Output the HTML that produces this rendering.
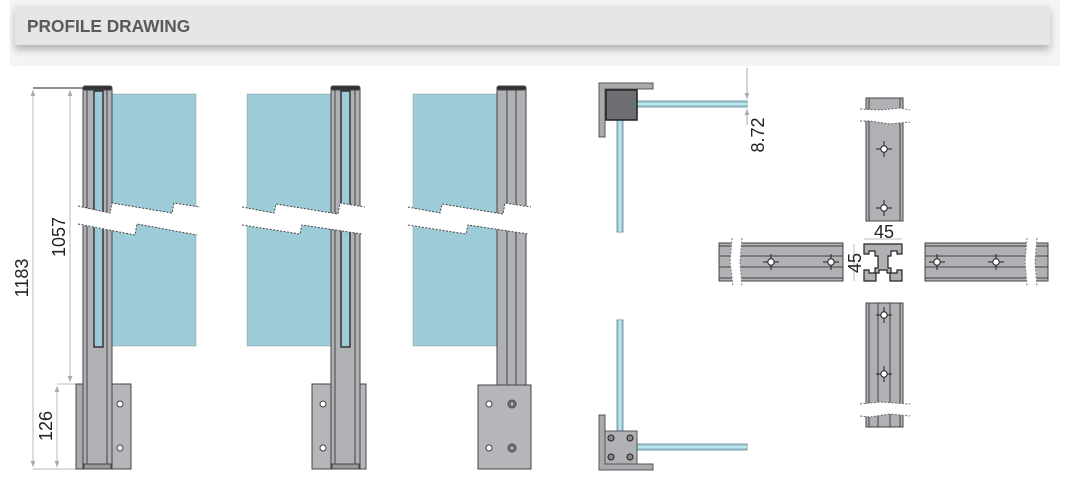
<!DOCTYPE html>
<html><head><meta charset="utf-8"><style>
html,body{margin:0;padding:0;background:#fff;}
body{width:1071px;height:477px;overflow:hidden;position:relative;font-family:"Liberation Sans",sans-serif;}
.hdr{position:absolute;left:15px;top:5px;width:1035px;height:40px;background:#e6e6e8;box-shadow:0 5px 7px rgba(0,0,0,0.25);}
.hdr span{position:absolute;left:12px;top:11px;font-size:17.3px;font-weight:bold;color:#5a5a5d;}
.bg{position:absolute;left:10px;top:0;width:1050px;height:66px;background:#f4f4f5;}
svg{position:absolute;left:0;top:0;}
</style></head><body>
<div class="bg"></div>
<div class="hdr"><span>PROFILE DRAWING</span></div>
<svg width="1071" height="477" viewBox="0 0 1071 477" font-family="Liberation Sans, sans-serif">
<defs>
<marker id="ar" viewBox="0 0 10 10" refX="10" refY="5" markerWidth="6" markerHeight="8" orient="auto-start-reverse"><path d="M0,1 L10,5 L0,9 Z" fill="#aaa"/></marker>
</defs>
<g stroke="#bbb" stroke-width="1" fill="none">
<line x1="33" y1="88" x2="83" y2="88" stroke="#222"/>
<line x1="57" y1="384" x2="83" y2="384"/>
<line x1="33" y1="469" x2="83" y2="469"/>
<line x1="33" y1="90" x2="33" y2="467" marker-start="url(#ar)" marker-end="url(#ar)"/>
<line x1="70" y1="90" x2="70" y2="382" marker-start="url(#ar)" marker-end="url(#ar)"/>
<line x1="57" y1="386" x2="57" y2="467" marker-start="url(#ar)" marker-end="url(#ar)"/>
</g>
<g font-size="18" fill="#222">
<text transform="translate(33,278) rotate(-90)" text-anchor="middle" dy="-5">1183</text>
<text transform="translate(70,237) rotate(-90)" text-anchor="middle" dy="-5">1057</text>
<text transform="translate(57,426) rotate(-90)" text-anchor="middle" dy="-5">126</text>
</g>

<g fill="#9ecbd8" stroke="#8a9aa0" stroke-width="0.5">
<rect x="112" y="94" width="84" height="252"/>
<rect x="247" y="94" width="84" height="252"/>
<rect x="413" y="94" width="84" height="252"/>
</g>

<g stroke="#444" stroke-width="1">
<rect x="76" y="384" width="7" height="85" fill="#a9aaae"/>
<rect x="112" y="384" width="19" height="85" fill="#b5b6ba"/>
<rect x="83" y="89" width="29" height="380" fill="#b0b1b5"/>
<line x1="87" y1="89" x2="87" y2="469"/><line x1="107" y1="89" x2="107" y2="469"/>
<rect x="94" y="91" width="9" height="256" fill="#9ecbd8" stroke="#222" stroke-width="1.3"/>
<rect x="83" y="86" width="29" height="4" rx="2" fill="#333"/>
<rect x="84" y="464" width="27" height="5" fill="#999"/>
<circle cx="120" cy="404" r="3" fill="#fff"/><circle cx="120" cy="448" r="3" fill="#fff"/>
</g>
<g stroke="#444" stroke-width="1">
<rect x="312" y="384" width="54" height="85" fill="#b5b6ba"/>
<rect x="331" y="89" width="29" height="380" fill="#b0b1b5"/>
<line x1="335" y1="89" x2="335" y2="469"/><line x1="355" y1="89" x2="355" y2="469"/>
<rect x="341" y="91" width="9" height="256" fill="#9ecbd8" stroke="#222" stroke-width="1.3"/>
<rect x="331" y="86" width="29" height="4" rx="2" fill="#333"/>
<rect x="332" y="464" width="27" height="5" fill="#999"/>
<circle cx="323" cy="404" r="3" fill="#fff"/><circle cx="323" cy="448" r="3" fill="#fff"/>
</g>
<g stroke="#444" stroke-width="1">
<rect x="497" y="89" width="29" height="296" fill="#b0b1b5"/>
<line x1="507" y1="89" x2="507" y2="385"/><line x1="516" y1="89" x2="516" y2="385"/>
<rect x="497" y="86" width="29" height="4" rx="2" fill="#333"/>
<rect x="478" y="385" width="53" height="84" fill="#b5b6ba"/>
<circle cx="489" cy="404" r="3" fill="#fff"/><circle cx="489" cy="448" r="3" fill="#fff"/>
<circle cx="512" cy="404" r="4" fill="#888"/><circle cx="512" cy="404" r="2" fill="#ccc"/>
<circle cx="512" cy="448" r="4" fill="#888"/><circle cx="512" cy="448" r="2" fill="#ccc"/>
</g>

<g fill="#fff" stroke="#444" stroke-width="1" stroke-dasharray="2,1.5">
<path d="M76,206 L110,213 L112,203 L172,213 L174,203 L200,207 L200,236 L197,235 L137,224 L135,235 L76,224 Z" stroke="none"/>
<polyline fill="none" points="78,206 110,213 112,203 172,213 174,203 200,207"/>
<polyline fill="none" points="78,224 135,235 137,224 197,235"/>
<path d="M240,207 L274,213 L276,204 L338,214 L340,203 L366,207 L366,235 L362,234 L302,225 L300,234 L240,225 Z" stroke="none"/>
<polyline fill="none" points="242,207 274,213 276,204 338,214 340,203 365,207"/>
<polyline fill="none" points="242,225 300,234 302,225 362,234"/>
<path d="M406,207 L440,213 L442,204 L503,214 L505,203 L532,207 L532,235 L528,234 L468,225 L466,234 L406,225 Z" stroke="none"/>
<polyline fill="none" points="408,207 440,213 442,204 503,214 505,203 531,207"/>
<polyline fill="none" points="408,225 466,234 468,225 528,234"/>
</g>

<g stroke="#555" stroke-width="1">
<path d="M599,83 H653 V89 H605 V137 H599 Z" fill="#a9aaae"/>
<rect x="637" y="101" width="110" height="6" fill="#9ecbd8" stroke="#7a9aa4"/>
<line x1="637" y1="104" x2="747" y2="104" stroke="#dff"/>
<rect x="617" y="120" width="6" height="112" fill="#9ecbd8" stroke="#7a9aa4"/>
<line x1="620" y1="120" x2="620" y2="232" stroke="#dff"/>
<rect x="606" y="90" width="31" height="30" fill="#6e6f73" stroke="#222" stroke-width="1.5"/>
</g>
<line x1="747" y1="68" x2="747" y2="99" stroke="#aaa" marker-end="url(#ar)"/>
<line x1="747" y1="125" x2="747" y2="109" stroke="#aaa" marker-end="url(#ar)"/>
<text transform="translate(764,135) rotate(-90)" text-anchor="middle" font-size="18" fill="#222">8.72</text>

<g stroke="#555" stroke-width="1">
<rect x="617" y="320" width="6" height="112" fill="#9ecbd8" stroke="#7a9aa4"/>
<line x1="620" y1="320" x2="620" y2="432" stroke="#dff"/>
<path d="M599,415 H605 V464 H653 V470 H599 Z" fill="#a9aaae"/>
<rect x="637" y="444" width="110" height="6" fill="#9ecbd8" stroke="#7a9aa4"/>
<line x1="637" y1="447" x2="747" y2="447" stroke="#dff"/>
<rect x="605" y="431" width="32" height="33" fill="#b0b1b5"/>
<g fill="#888" stroke="#222"><circle cx="611" cy="438" r="3"/><circle cx="630" cy="438" r="3"/><circle cx="611" cy="457" r="3"/><circle cx="630" cy="457" r="3"/></g>
</g>

<g stroke="#444" stroke-width="1">
<rect x="866" y="98" width="37" height="123" fill="#b0b1b5"/>
<line x1="869" y1="98" x2="869" y2="221"/><line x1="900" y1="98" x2="900" y2="221"/>
<path d="M860,109 L880,110 L900,108 L910,110 L910,122 L890,124 L870,121 L860,121 Z" fill="#fff" stroke="none"/>
<polyline points="860,109 880,110 900,108 910,110" fill="none" stroke="#666" stroke-dasharray="2,1.5"/>
<polyline points="860,121 870,121 890,124 910,122" fill="none" stroke="#666" stroke-dasharray="2,1.5"/>
<g stroke="#222"><line x1="876" y1="149" x2="892" y2="149"/><line x1="884" y1="141" x2="884" y2="157"/><line x1="876" y1="208" x2="892" y2="208"/><line x1="884" y1="200" x2="884" y2="216"/></g>
<g fill="#fff" stroke="#222"><circle cx="884" cy="149" r="3.2"/><circle cx="884" cy="208" r="3.2"/></g>
</g>
<g stroke="#444" stroke-width="1">
<rect x="866" y="303" width="37" height="124" fill="#b0b1b5"/>
<line x1="869" y1="303" x2="869" y2="427"/><line x1="900" y1="303" x2="900" y2="427"/>
<line x1="878" y1="303" x2="878" y2="427"/><line x1="890" y1="303" x2="890" y2="427"/>
<path d="M860,404 L880,402 L910,404 L910,416 L890,414 L870,417 L860,416 Z" fill="#fff" stroke="none"/>
<polyline points="860,404 880,402 910,404" fill="none" stroke="#666" stroke-dasharray="2,1.5"/>
<polyline points="860,416 870,417 890,414 910,416" fill="none" stroke="#666" stroke-dasharray="2,1.5"/>
<g stroke="#222"><line x1="876" y1="315" x2="892" y2="315"/><line x1="884" y1="307" x2="884" y2="323"/><line x1="876" y1="374" x2="892" y2="374"/><line x1="884" y1="366" x2="884" y2="382"/></g>
<g fill="#fff" stroke="#222"><circle cx="884" cy="315" r="3.2"/><circle cx="884" cy="374" r="3.2"/></g>
</g>
<g stroke="#444" stroke-width="1">
<rect x="719" y="243" width="124" height="38" fill="#b0b1b5"/>
<line x1="719" y1="246" x2="843" y2="246"/><line x1="719" y1="278" x2="843" y2="278"/>
<line x1="719" y1="256" x2="843" y2="256"/><line x1="719" y1="267" x2="843" y2="267"/>
<path d="M732,238 L730,262 L733,286 L742,286 L740,262 L742,238 Z" fill="#fff" stroke="none"/>
<polyline points="732,238 730,262 733,286" fill="none" stroke="#777" stroke-dasharray="2,1.5"/>
<polyline points="742,238 740,262 742,286" fill="none" stroke="#777" stroke-dasharray="2,1.5"/>
<g stroke="#222"><line x1="763" y1="262" x2="779" y2="262"/><line x1="771" y1="254" x2="771" y2="270"/><line x1="823" y1="262" x2="839" y2="262"/><line x1="831" y1="254" x2="831" y2="270"/></g>
<g fill="#fff" stroke="#222"><circle cx="771" cy="262" r="3.2"/><circle cx="831" cy="262" r="3.2"/></g>
</g>
<g stroke="#444" stroke-width="1">
<rect x="925" y="243" width="123" height="38" fill="#b0b1b5"/>
<line x1="925" y1="246" x2="1048" y2="246"/><line x1="925" y1="278" x2="1048" y2="278"/>
<line x1="925" y1="256" x2="1048" y2="256"/><line x1="925" y1="267" x2="1048" y2="267"/>
<path d="M1027,238 L1025,262 L1027,286 L1037,286 L1035,262 L1037,238 Z" fill="#fff" stroke="none"/>
<polyline points="1027,238 1025,262 1027,286" fill="none" stroke="#777" stroke-dasharray="2,1.5"/>
<polyline points="1037,238 1035,262 1037,286" fill="none" stroke="#777" stroke-dasharray="2,1.5"/>
<g stroke="#222"><line x1="929" y1="262" x2="945" y2="262"/><line x1="937" y1="254" x2="937" y2="270"/><line x1="988" y1="262" x2="1004" y2="262"/><line x1="996" y1="254" x2="996" y2="270"/></g>
<g fill="#fff" stroke="#222"><circle cx="937" cy="262" r="3.2"/><circle cx="996" cy="262" r="3.2"/></g>
</g>
<g stroke="#222" stroke-width="1.2" fill="#b0b1b5">
<path d="M864,244 H902 V254 H897 V251 H891 V256 H888 V268 H891 V273 H897 V270 H902 V281 H890 V273 H887 V270 H879 V273 H876 V281 H864 V270 H869 V273 H875 V268 H878 V256 H875 V251 H869 V254 H864 Z"/>
</g>
<g stroke="#bbb"><line x1="864" y1="239" x2="902" y2="239"/><line x1="854" y1="244" x2="854" y2="281"/></g>
<text x="884" y="238" text-anchor="middle" font-size="18" fill="#222">45</text>
<text transform="translate(861,263) rotate(-90)" text-anchor="middle" font-size="18" fill="#222">45</text>
</svg>
</body></html>
